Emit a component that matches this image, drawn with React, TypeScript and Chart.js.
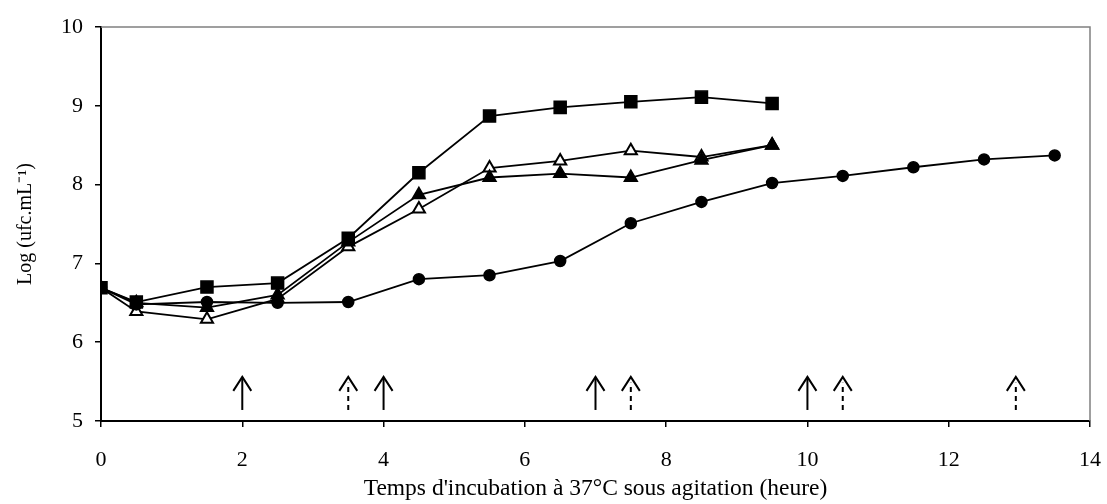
import React, { useEffect, useRef } from "react";
import { Chart, registerables } from "chart.js";

Chart.register(...registerables);

const times = [0, 0.5, 1.5, 2.5, 3.5, 4.5, 5.5, 6.5, 7.5, 8.5, 9.5, 10.5, 11.5, 12.5, 13.5];
const squares = [6.69, 6.51, 6.70, 6.75, 7.32, 8.15, 8.87, 8.98, 9.05, 9.11, 9.03];
const openTriangles = [6.69, 6.39, 6.29, 6.55, 7.21, 7.69, 8.21, 8.30, 8.43, 8.35, 8.50];
const filledTriangles = [6.69, 6.50, 6.44, 6.60, 7.27, 7.87, 8.09, 8.14, 8.09, 8.31, 8.50];
const circles = [6.69, 6.48, 6.51, 6.50, 6.51, 6.80, 6.85, 7.03, 7.51, 7.78, 8.02, 8.11, 8.22, 8.32, 8.37];

const solidArrows = [2, 4, 7, 10];
const dashedArrows = [3.5, 7.5, 10.5, 12.95];
const arrowBottom = 5.14;
const arrowTop = 5.56;

const xTitle = "Temps d'incubation à 37°C sous agitation (heure)";
const yTitle = "Log (ufc.mL\u207B\u00B9)";

const toPoints = (vals: number[]) => vals.map((v, i) => ({ x: times[i], y: v }));

const FONT = "'Liberation Serif', 'Times New Roman', serif";

const framePlugin = {
  id: "frameAndArrows",
  beforeDatasetsDraw(chart: any) {
    const { ctx, chartArea } = chart;
    ctx.save();
    ctx.strokeStyle = "#808080";
    ctx.lineWidth = 1.5;
    ctx.beginPath();
    ctx.moveTo(chartArea.left, chartArea.top);
    ctx.lineTo(chartArea.right, chartArea.top);
    ctx.lineTo(chartArea.right, chartArea.bottom);
    ctx.stroke();
    ctx.restore();
  },
  afterDatasetsDraw(chart: any) {
    const { ctx } = chart;
    const xs = chart.scales.x;
    const ys = chart.scales.y;
    const yb = ys.getPixelForValue(arrowBottom);
    const yt = ys.getPixelForValue(arrowTop);
    const draw = (xv: number, dashed: boolean) => {
      const px = xs.getPixelForValue(xv);
      ctx.save();
      ctx.strokeStyle = "#000";
      ctx.lineWidth = 2;
      ctx.setLineDash(dashed ? [5, 4] : []);
      ctx.beginPath();
      ctx.moveTo(px, yb);
      ctx.lineTo(px, yt + (dashed ? 6 : 0));
      ctx.stroke();
      ctx.setLineDash([]);
      ctx.beginPath();
      ctx.moveTo(px - 9, yt + 14);
      ctx.lineTo(px, yt);
      ctx.lineTo(px + 9, yt + 14);
      ctx.stroke();
      ctx.restore();
    };
    solidArrows.forEach((x) => draw(x, false));
    dashedArrows.forEach((x) => draw(x, true));
  },
};

export default function App() {
  const ref = useRef<HTMLCanvasElement | null>(null);
  useEffect(() => {
    if (!ref.current) return;
    const common = {
      borderColor: "#000",
      borderWidth: 1.8,
      pointBorderColor: "#000",
      pointBorderWidth: 1.5,
      showLine: true,
      tension: 0,
    };
    const chart = new Chart(ref.current, {
      type: "scatter",
      data: {
        datasets: [
          { ...common, data: toPoints(circles), pointStyle: "circle", pointRadius: 5.5, pointBackgroundColor: "#000" },
          { ...common, data: toPoints(filledTriangles), pointStyle: "triangle", pointRadius: 7.5, pointBackgroundColor: "#000" },
          { ...common, data: toPoints(openTriangles), pointStyle: "triangle", pointRadius: 7, pointBackgroundColor: "#fff", pointBorderWidth: 2 },
          { ...common, data: toPoints(squares), pointStyle: "rect", pointRadius: 8.5, pointBackgroundColor: "#000" },
        ],
      },
      options: {
        animation: false,
        responsive: true,
        maintainAspectRatio: false,
        layout: { padding: { left: 10, right: 17, top: 27, bottom: 0 } },
        plugins: { legend: { display: false }, tooltip: { enabled: false } },
        scales: {
          x: {
            type: "linear",
            min: 0,
            max: 14,
            afterFit: (s: any) => { s.height = 83; s.paddingLeft = 0; s.paddingRight = 0; },
            ticks: { stepSize: 2, color: "#000", font: { family: FONT, size: 22 }, padding: 20 },
            grid: { drawOnChartArea: false, drawTicks: true, tickLength: 6, color: "#000", lineWidth: 1.5 },
            border: { display: true, color: "#000", width: 2 },
            title: { display: true, text: xTitle, color: "#000", font: { family: FONT, size: 23.5 }, padding: { top: 0, bottom: 1 } },
          },
          y: {
            type: "linear",
            min: 5,
            max: 10,
            afterFit: (s: any) => { s.width = 91; s.paddingTop = 0; s.paddingBottom = 0; },
            ticks: { stepSize: 1, color: "#000", font: { family: FONT, size: 22 }, padding: 12 },
            grid: { drawOnChartArea: false, drawTicks: true, tickLength: 6, color: "#000", lineWidth: 1.5 },
            border: { display: true, color: "#000", width: 2 },
            title: { display: true, text: yTitle, color: "#000", font: { family: FONT, size: 20 }, padding: { top: 4, bottom: 4 } },
          },
        },
      },
      plugins: [framePlugin],
    } as any);
    return () => chart.destroy();
  }, []);
  return (
    <div style={{ position: "absolute", left: 0, top: 0, width: 1107, height: 504, background: "#fff" }}>
      <canvas ref={ref} />
    </div>
  );
}
